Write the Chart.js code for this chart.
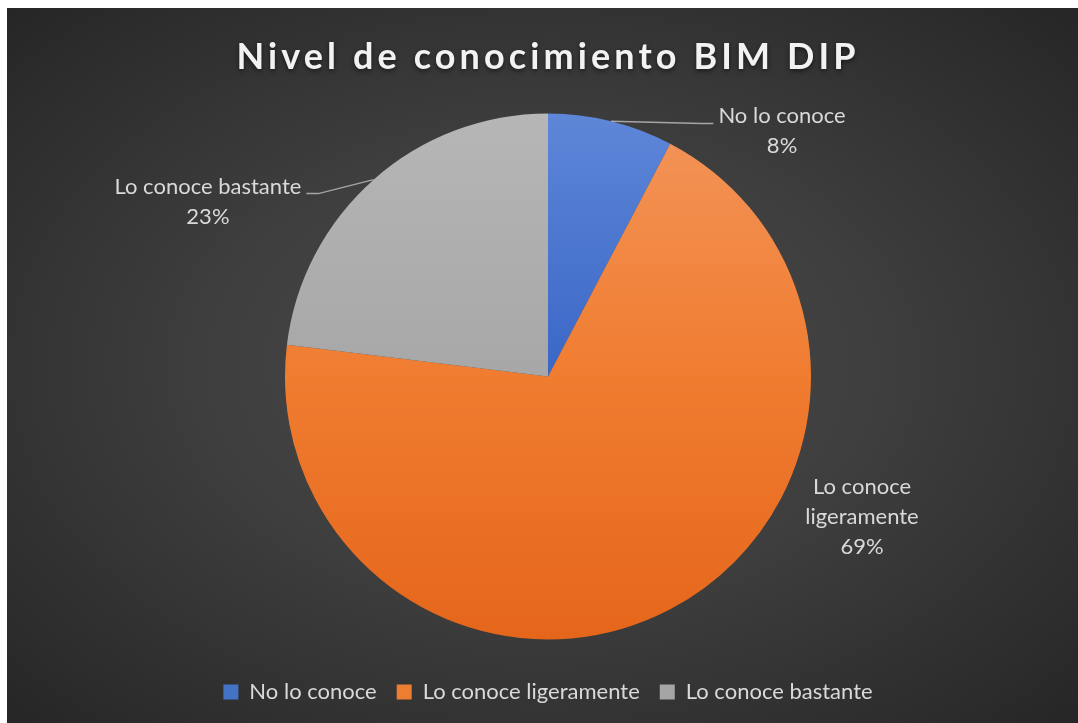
<!DOCTYPE html>
<html>
<head>
<meta charset="utf-8">
<title>Nivel de conocimiento BIM DIP</title>
<script src="https://cdn.jsdelivr.net/npm/chart.js@4.4.1/dist/chart.umd.min.js"></script>
<style>
  body { margin: 0; background: #ffffff; }
  #wrap {
    position: absolute; left: 7px; top: 8px; width: 1071px; height: 715px;
    background: radial-gradient(ellipse farthest-corner at 50% 50%, #4b4b4b 0%, #3e3e3e 45%, #262626 100%);
  }
</style>
</head>
<body>
<div id="wrap"><canvas id="pieChart"></canvas></div>
<script>
// Survey answers (count of respondents)
const categories = ['No lo conoce', 'Lo conoce ligeramente', 'Lo conoce bastante'];
const responses = [2, 18, 6];
// how each label is wrapped on the chart
const labelLines = [['No lo conoce'], ['Lo conoce', 'ligeramente'], ['Lo conoce bastante']];

const solidColors = ['#4472c4', '#ed7d31', '#a5a5a5'];
const gradientStops = [
    ['#5e87d8', '#3a66c6', '#2b55b0'],
    ['#f3955a', '#f07c30', '#e5661b'],
    ['#b6b6b6', '#a7a7a7', '#999999']
];

const total = responses.reduce((a, b) => a + b, 0);

function sliceFill(context) {
    const chart = context.chart;
    const area = chart.chartArea;
    const stops = gradientStops[context.dataIndex];
    if (!area) return solidColors[context.dataIndex];
    const cy = (area.top + area.bottom) / 2;
    const r = 263;
    const g = chart.ctx.createLinearGradient(0, cy - r, 0, cy + r);
    g.addColorStop(0, stops[0]);
    g.addColorStop(0.5, stops[1]);
    g.addColorStop(1, stops[2]);
    return g;
}

// title with letter spacing and a soft shadow, like the Excel original
const titlePlugin = {
    id: 'excelTitle',
    afterDraw(chart, args, opts) {
        const ctx = chart.ctx;
        const area = chart.chartArea;
        ctx.save();
        ctx.font = 'bold 36px Lato';
        ctx.letterSpacing = '4.1px';
        ctx.fillStyle = '#f2f2f2';
        ctx.textAlign = 'center';
        ctx.textBaseline = 'middle';
        ctx.shadowColor = 'rgba(0,0,0,0.55)';
        ctx.shadowBlur = 5;
        ctx.shadowOffsetY = 2;
        ctx.fillText(opts.text, (area.left + area.right) / 2, 49);
        ctx.restore();
    }
};

// data labels outside the pie with leader lines
const sliceLabels = {
    id: 'sliceLabels',
    afterDatasetsDraw(chart, args, opts) {
        const ctx = chart.ctx;
        const meta = chart.getDatasetMeta(0);
        ctx.save();
        ctx.font = '22px Lato';
        ctx.fillStyle = '#d9d9d9';
        ctx.textAlign = 'center';
        ctx.textBaseline = 'middle';
        meta.data.forEach((arc, i) => {
            const p = arc.getProps(['x', 'y', 'outerRadius', 'startAngle', 'endAngle'], true);
            const mid = (p.startAngle + p.endAngle) / 2;
            const place = opts.placement[i];
            const lx = p.x + place.dx * p.outerRadius;
            const ly = p.y + place.dy * p.outerRadius;
            const pct = Math.round(responses[i] / total * 100) + '%';
            const lines = labelLines[i].concat([pct]);
            const lh = 30;
            const top = ly - (lines.length - 1) * lh / 2;
            lines.forEach((t, k) => ctx.fillText(t, lx, top + k * lh));

            if (place.leader) {
                const w = ctx.measureText(lines[0]).width;
                const ex = p.x + Math.cos(mid) * p.outerRadius;
                const ey = p.y + Math.sin(mid) * p.outerRadius;
                const side = ex > lx ? 1 : -1;
                const ax = lx + side * (w / 2 + 5);
                const ay = top + 7;
                ctx.beginPath();
                ctx.strokeStyle = '#a6a6a6';
                ctx.lineWidth = 1.5;
                ctx.moveTo(ax, ay);
                ctx.lineTo(ax + side * 12, ay);
                ctx.lineTo(ex, ey);
                ctx.stroke();
            }
        });
        ctx.restore();
    }
};

const ctx = document.getElementById('pieChart').getContext('2d');

new Chart(ctx, {
    type: 'pie',
    data: {
        labels: categories,
        datasets: [{
            data: responses,
            backgroundColor: sliceFill,
            borderWidth: 0,
            radius: 263
        }]
    },
    options: {
        responsive: true,
        maintainAspectRatio: false,
        animation: false,
        layout: { padding: { top: 84, left: 11, right: 0, bottom: 10 } },
        plugins: {
            title: { display: false },
            tooltip: { enabled: false },
            legend: {
                position: 'bottom',
                labels: {
                    color: '#d9d9d9',
                    font: { family: 'Lato', size: 22 },
                    boxWidth: 15,
                    boxHeight: 15,
                    padding: 20,
                    generateLabels: (chart) => categories.map((c, i) => ({
                        text: c,
                        fillStyle: solidColors[i],
                        strokeStyle: solidColors[i],
                        lineWidth: 0,
                        fontColor: '#d9d9d9',
                        hidden: false,
                        index: i
                    }))
                }
            },
            excelTitle: { text: 'Nivel de conocimiento BIM DIP' },
            sliceLabels: {
                placement: [
                    { dx: 0.890, dy: -0.932, leader: true },
                    { dx: 1.194, dy: 0.532, leader: false },
                    { dx: -1.293, dy: -0.665, leader: true }
                ]
            }
        }
    },
    plugins: [titlePlugin, sliceLabels]
});
</script>
</body>
</html>
